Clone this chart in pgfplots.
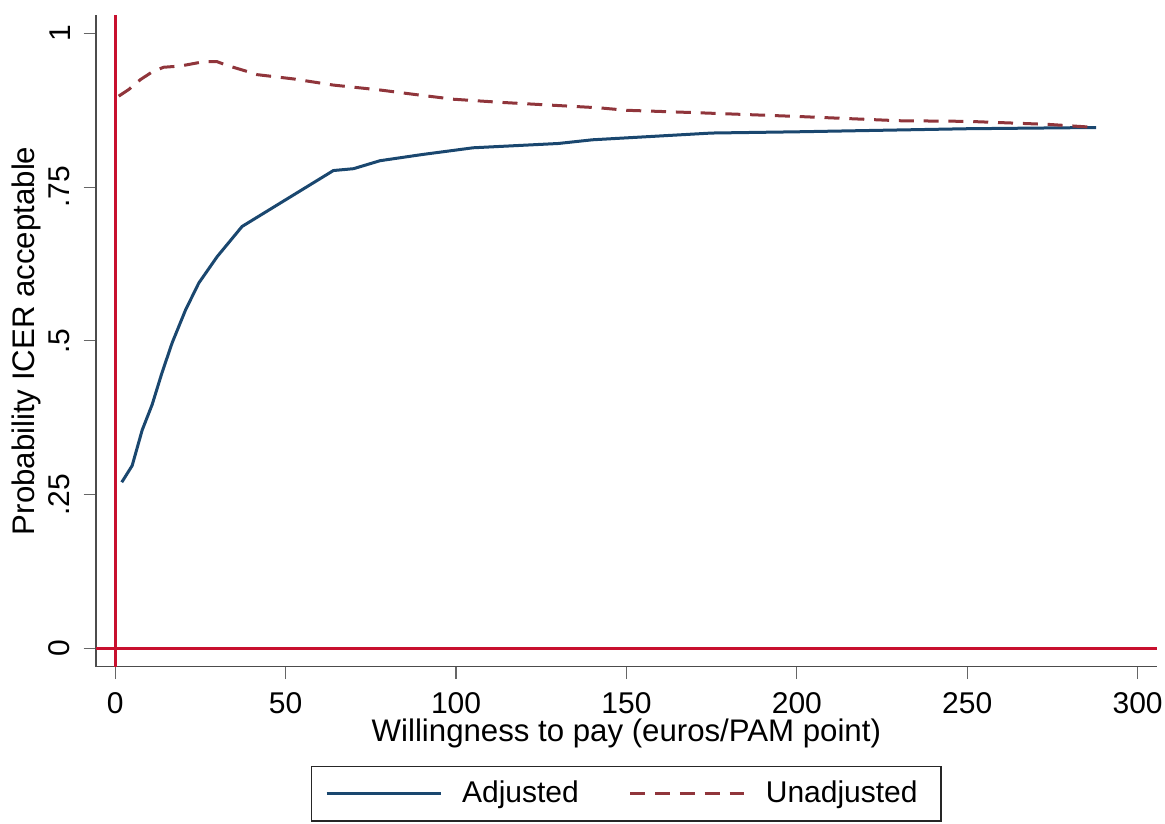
\documentclass[border=0pt]{standalone}
\usepackage{pgfplots}
\pgfplotsset{compat=1.18}
\usepackage{fontspec}
\setmainfont{Liberation Sans}
\definecolor{stnavy}{HTML}{1A476F}
\definecolor{stmaroon}{HTML}{90353B}
\definecolor{refred}{HTML}{C8102E}
\begin{document}
\fontsize{15}{18}\selectfont
\begin{tikzpicture}
\begin{axis}[
  scale only axis,
  width=530.35pt, height=325.85pt,
  xmin=-5.66, xmax=305.6,
  ymin=-0.030, ymax=1.030,
  axis lines*=left,
  axis line style={black!70, line width=0.7pt, -},
  xtick={0,50,100,150,200,250,300},
  ytick={0,0.25,0.5,0.75,1},
  yticklabels={0,.25,.5,.75,1},
  tick style={black!60, line width=0.6pt},
  major tick length=6.2pt,
  tick align=outside,
  /pgf/number format/assume math mode=true,
  tick label style={font=\fontsize{15}{18}\selectfont, inner sep=6.5pt},
  yticklabel style={rotate=90, anchor=south},
  xlabel={Willingness to pay (euros/PAM point)},
  ylabel={Probability ICER acceptable},
  label style={font=\fontsize{15.6}{18}\selectfont},
  xlabel style={at={(axis description cs:0.5,0)}, anchor=base, yshift=-37.5pt},
  ylabel style={at={(axis description cs:0,0.5)}, anchor=base, yshift=30.5pt},
  legend columns=2,
  legend style={at={(0.5,-0.15237)}, anchor=north, draw=black!85, line width=0.7pt,
    font=\fontsize{15}{18}\selectfont, inner xsep=6.65pt, inner ysep=4pt,
    nodes={inner xsep=5pt, inner ysep=3pt},
    /tikz/every odd column/.append style={column sep=5pt},
    /tikz/every even column/.append style={column sep=20pt}},
  legend image code/.code={\draw[#1] (0pt,0pt) -- (57pt,0pt);},
  clip=false,
]
\draw[refred, line width=1.5pt] (axis cs:0,-0.030) -- (axis cs:0,1.030);
\draw[refred, line width=1.5pt] (axis cs:-5.66,0) -- (axis cs:305.6,0);
\addplot[stnavy, line width=1.5pt] coordinates {
(1.9,0.270) (4.95,0.297) (7.9,0.355) (10.8,0.396) (13.7,0.448) (16.7,0.497)
(20.6,0.550) (24.5,0.594) (29.9,0.637) (37.2,0.686) (64.0,0.777) (69.9,0.780)
(77.7,0.793) (90,0.803) (105.0,0.814) (130,0.821) (140,0.827) (175,0.838)
(200,0.840) (250,0.845) (287.8,0.847)};
\addlegendentry{Adjusted}
\addplot[stmaroon, line width=1.5pt, dash pattern=on 7.5pt off 4.9pt] coordinates {
(1.0,0.898) (4.0,0.909) (7.4,0.925) (11,0.938) (14.2,0.945) (19.1,0.947) (25.9,0.954)
(29.9,0.954) (32.8,0.948) (37.6,0.940) (41.6,0.933) (52.3,0.926) (64.0,0.916)
(77.7,0.908) (87.5,0.901) (99.2,0.893) (112.8,0.888) (142,0.879) (150,0.875)
(171,0.871) (200,0.865) (230,0.858) (250,0.857) (274,0.852) (287.8,0.847)};
\addlegendentry{Unadjusted}
\end{axis}
\pgfresetboundingbox
\path ([shift={(-48pt,-78.15pt)}]current axis.south west) rectangle ([shift={(534.5pt,333.35pt)}]current axis.south west);
\end{tikzpicture}
\end{document}
